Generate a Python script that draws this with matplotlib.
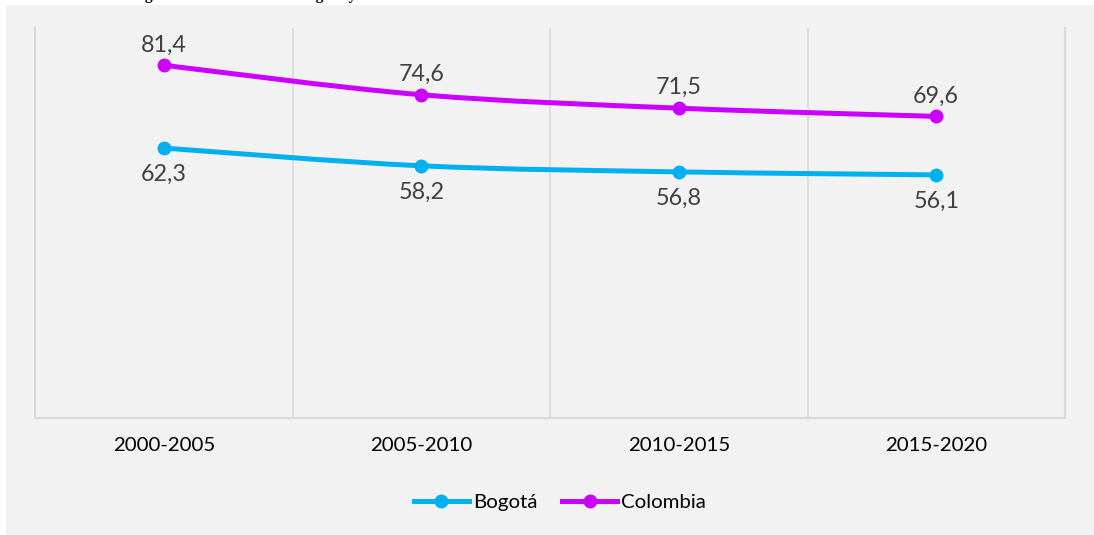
import numpy as np
import matplotlib
matplotlib.use("Agg")
import matplotlib.pyplot as plt
from matplotlib.path import Path
from matplotlib.patches import PathPatch, Rectangle
from matplotlib.lines import Line2D

# data
periods = ["2000-2005", "2005-2010", "2010-2015", "2015-2020"]
bogota = [62.3, 58.2, 56.8, 56.1]
colombia = [81.4, 74.6, 71.5, 69.6]
series_names = ["Bogotá", "Colombia"]
title_text = "Tasa general de fecundidad Bogotá y Colombia 2000 - 2020"

col_bog = "#00B0F0"
col_col = "#CC00FF"
bg = "#F2F2F2"
grid_col = "#D9D9D9"

plt.rcParams["font.family"] = ["Lato", "DejaVu Sans"]


def smooth_path(xs, ys):
	# bezier path through the points, like the smoothed lines of a spreadsheet
	pts = np.column_stack([xs, ys]).astype(float)
	n = len(pts)
	verts = [pts[0]]
	codes = [Path.MOVETO]
	for i in range(n - 1):
		p0 = pts[i - 1] if i > 0 else pts[i]
		p1 = pts[i]
		p2 = pts[i + 1]
		p3 = pts[i + 2] if i + 2 < n else pts[i + 1]
		c1 = p1 + (p2 - p0) / 6.0
		c2 = p2 - (p3 - p1) / 6.0
		verts += [c1, c2, p2]
		codes += [Path.CURVE4] * 3
	#end_for
	return Path(verts, codes)
#end_def


fig = plt.figure(figsize=(10.94, 5.35), dpi=100)
fig.patch.set_facecolor("white")
fig.patches.append(Rectangle((6 / 1094, 0), 1 - 6 / 1094, 1 - 5 / 535,
	transform=fig.transFigure, facecolor=bg, edgecolor="none", zorder=-5))

ax = fig.add_axes([35 / 1094, 1 - 418 / 535, (1065 - 35) / 1094, (418 - 28) / 535])
ax.set_facecolor(bg)
ax.set_zorder(2)

x = np.arange(len(periods))

for vals, color in [(bogota, col_bog), (colombia, col_col)]:
	patch = PathPatch(smooth_path(x, vals), facecolor="none", edgecolor=color,
		lw=3.6, capstyle="round", joinstyle="round", zorder=3)
	ax.add_patch(patch)
	ax.plot(x, vals, linestyle="none", marker="o", ms=9, color=color, zorder=4)
#end_for

for xi, v in zip(x, colombia):
	ax.annotate(("%.1f" % v).replace(".", ","), (xi, v), xytext=(0, 10),
		textcoords="offset points", ha="center", va="baseline",
		fontsize=16.8, color="#404040")
#end_for
for xi, v in zip(x, bogota):
	ax.annotate(("%.1f" % v).replace(".", ","), (xi, v), xytext=(0, -23.5),
		textcoords="offset points", ha="center", va="baseline",
		fontsize=16.8, color="#404040")
#end_for

ax.set_xlim(-0.5, len(periods) - 0.5)
ax.set_ylim(0, 90)
ax.set_xticks(x)
ax.set_xticklabels(periods, fontsize=14.7, color="black")
ax.set_xticks(np.arange(0.5, len(periods) - 0.5), minor=True)
ax.tick_params(axis="x", which="both", length=0, pad=14)
ax.set_yticks([])
ax.grid(axis="x", which="minor", color=grid_col, lw=1.2)

for side in ["left", "right", "bottom"]:
	ax.spines[side].set_color(grid_col)
	ax.spines[side].set_linewidth(1.5)
#end_for
ax.spines["top"].set_visible(False)

handles = [
	Line2D([], [], color=col_bog, lw=3.6, marker="o", ms=9),
	Line2D([], [], color=col_col, lw=3.6, marker="o", ms=9),
]
fig.legend(handles, series_names, loc="center", bbox_to_anchor=(560 / 1094, 1 - 502 / 535),
	ncol=2, frameon=False, fontsize=14.7, handlelength=2.7, handletextpad=0.2,
	columnspacing=1.2)

# title sits mostly above the picture, only the descenders show
fig.text(110 / 1094, 1 + 1 / 535, title_text, ha="left", va="baseline",
	fontsize=11.3, fontweight="bold", family="Liberation Serif")

fig.savefig("out.png", dpi=100, facecolor=fig.get_facecolor())
